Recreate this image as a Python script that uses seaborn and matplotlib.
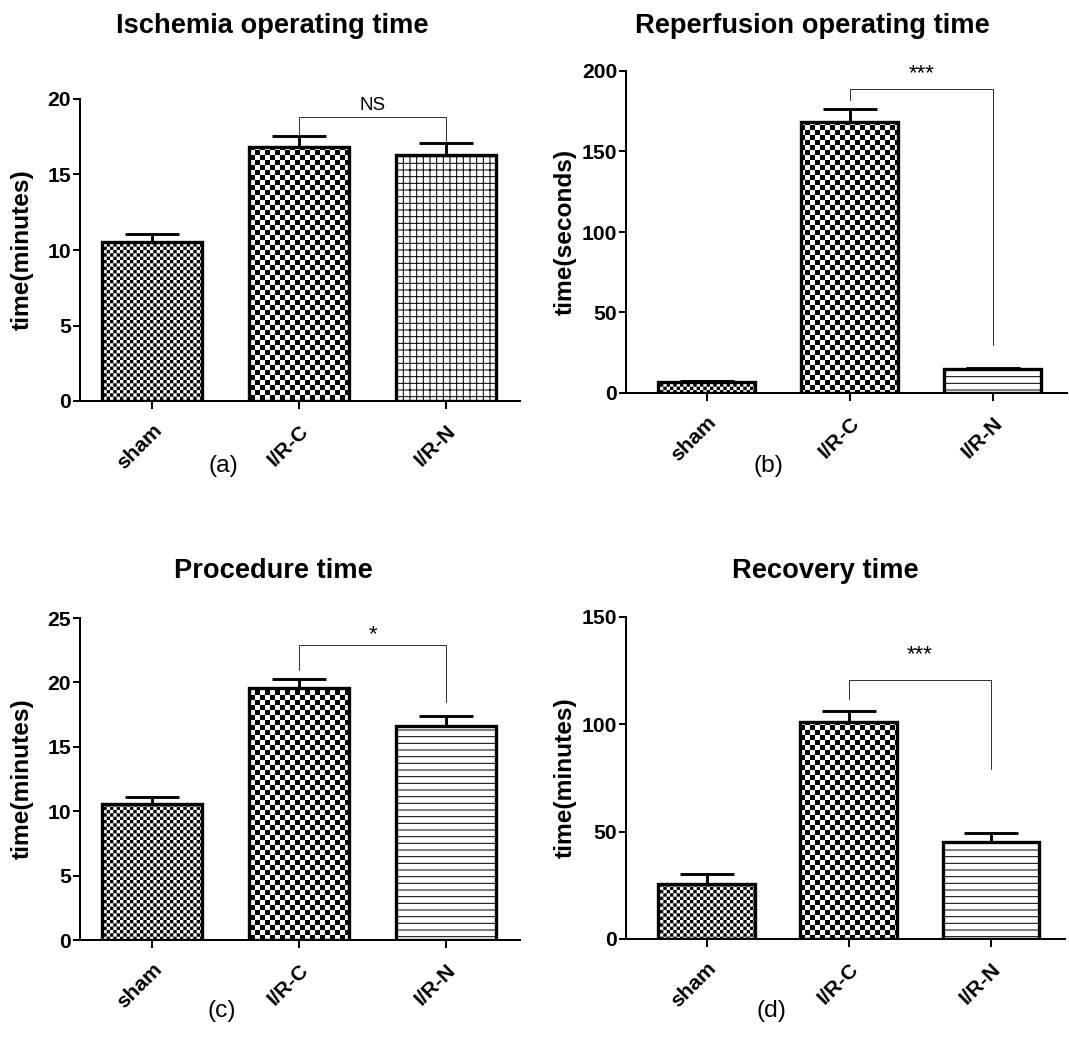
import numpy as np
import matplotlib
matplotlib.use('Agg')
import matplotlib.pyplot as plt
import matplotlib.hatch as mhatch
from matplotlib.path import Path
import seaborn as sns

cats = ['sham', 'I/R-C', 'I/R-N']

ischemia_mean = [10.5, 16.8, 16.3]
ischemia_sem = [0.55, 0.75, 0.8]
reperfusion_mean = [7.0, 168.5, 14.9]
reperfusion_sem = [0.7, 8.0, 0.8]
procedure_mean = [10.55, 19.6, 16.6]
procedure_sem = [0.55, 0.7, 0.8]
recovery_mean = [25.6, 101.2, 45.4]
recovery_sem = [4.5, 5.0, 3.8]

titles = ['Ischemia operating time', 'Reperfusion operating time',
          'Procedure time', 'Recovery time']
ylabels = ['time(minutes)', 'time(seconds)', 'time(minutes)', 'time(minutes)']
panel_tags = ['(a)', '(b)', '(c)', '(d)']
ymax = [20, 200, 25, 150]
ystep = [5, 50, 5, 50]

# significance brackets: text, bracket height, left leg end, right leg end, text height
sig_text = ['NS', '***', '*', '***']
sig_bar = [18.8, 189, 22.9, 120.5]
sig_left = [17.6, 182, 21.0, 112]
sig_right = [17.2, 30, 18.5, 79]
sig_label_y = [19.6, 198.5, 23.7, 132.5]


# checkerboard fill (GraphPad style) - replaces the big circle 'O' hatch
class CheckerHatch(mhatch.HatchPatternBase):
    def __init__(self, hatch, density):
        self.n = hatch.count('O') * 8
        self.num_vertices = 5 * (self.n * self.n // 2)

    def set_vertices_and_codes(self, vertices, codes):
        c = 1.0 / self.n
        side = c - plt.rcParams['hatch.linewidth'] / 72.0
        pad = (c - side) / 2
        sq = np.array([[0, 0], [side, 0], [side, side], [0, side], [0, 0]])
        code = [Path.MOVETO, Path.LINETO, Path.LINETO, Path.LINETO, Path.CLOSEPOLY]
        k = 0
        for i in range(self.n):
            for j in range(self.n):
                if (i + j) % 2 == 0:
                    vertices[k:k + 5] = sq + [i * c + pad, j * c + pad]
                    codes[k:k + 5] = code
                    k += 5


mhatch._hatch_types = [t for t in mhatch._hatch_types
                       if t is not mhatch.LargeCircles] + [CheckerHatch]

sns.set_style('ticks')
plt.rcParams['font.family'] = ['Liberation Sans', 'DejaVu Sans']
plt.rcParams['hatch.linewidth'] = 0.9
for key in ['text.color', 'axes.labelcolor', 'xtick.color', 'ytick.color',
            'axes.edgecolor']:
    plt.rcParams[key] = 'black'

W, H = 1069, 1053
fig = plt.figure(figsize=(W / 80, H / 80), dpi=80)

# axes boxes in pixels: left, top, right, bottom
boxes = [(80, 99, 520, 401), (626, 71, 1067, 393),
         (80, 618, 520, 940), (626, 617, 1065, 939)]
xlims = [(-0.49, 2.5), (-0.566, 2.52), (-0.49, 2.5), (-0.566, 2.52)]
title_pos = [(272, 26), (812, 26), (273, 571), (825, 571)]
tag_pos = [(223, 466), (768, 466), (222, 1011), (771, 1011)]
ylabel_x = [22, 565, 22, 565]

means = [ischemia_mean, reperfusion_mean, procedure_mean, recovery_mean]
sems = [ischemia_sem, reperfusion_sem, procedure_sem, recovery_sem]
hatches = [['OOO', 'OO', '++'], ['OOO', 'OO', '--'],
           ['OOO', 'OO', '--'], ['OOO', 'OO', '--']]

for k in range(4):
    l, t, r, b = boxes[k]
    ax = fig.add_axes([l / W, 1 - b / H, (r - l) / W, (b - t) / H])
    sns.barplot(x=cats, y=means[k], ax=ax, color='white', saturation=1,
                edgecolor='black', linewidth=3.0, errorbar=None, width=0.68)
    for p, h in zip(ax.patches, hatches[k]):
        p.set_hatch(h)
    xs = [p.get_x() + p.get_width() / 2 for p in ax.patches]
    ax.errorbar(xs, means[k], yerr=[np.zeros(3), sems[k]], fmt='none',
                ecolor='black', elinewidth=2.6, capsize=24, capthick=2.6, zorder=3)

    # bracket between I/R-C and I/R-N
    ax.plot([xs[1], xs[1], xs[2], xs[2]],
            [sig_left[k], sig_bar[k], sig_bar[k], sig_right[k]],
            color='#333333', lw=0.9, clip_on=False)
    star = sig_text[k] != 'NS'
    ax.text((xs[1] + xs[2]) / 2, sig_label_y[k], sig_text[k], ha='center',
            va='center', fontsize=20 if star else 17, fontweight='normal',
            clip_on=False)

    ax.set_xlim(*xlims[k])
    ax.set_ylim(0, ymax[k])
    ax.set_yticks(np.arange(0, ymax[k] + 1, ystep[k]))
    sns.despine(ax=ax)
    for s in ['left', 'bottom']:
        ax.spines[s].set_linewidth(1.8)
    ax.tick_params(axis='y', direction='out', length=6, width=1.8,
                   labelsize=19, pad=2)
    ax.tick_params(axis='x', direction='out', length=7, width=1.8,
                   labelsize=19, pad=11)
    for lab in ax.get_yticklabels():
        lab.set_fontweight('bold')
    ax.set_xticks(xs)
    ax.set_xticklabels(cats, rotation=45, ha='right', rotation_mode='anchor',
                       fontweight='bold', fontsize=19)
    ax.set_ylabel('')
    fig.text(ylabel_x[k] / W, 1 - (t + b) / 2 / H, ylabels[k], rotation=90,
             ha='center', va='center', fontsize=22, fontweight='bold')
    fig.text(title_pos[k][0] / W, 1 - title_pos[k][1] / H, titles[k],
             ha='center', va='center', fontsize=24.5, fontweight='bold')
    fig.text(tag_pos[k][0] / W, 1 - tag_pos[k][1] / H, panel_tags[k],
             ha='center', va='center', fontsize=22)

fig.savefig('out.png', dpi=80)
